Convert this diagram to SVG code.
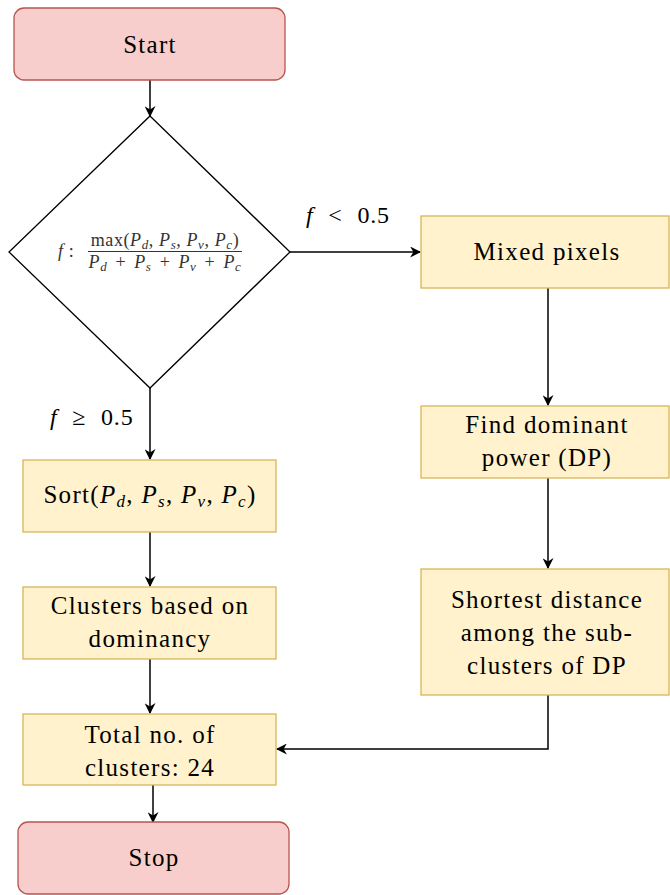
<svg xmlns="http://www.w3.org/2000/svg" width="670" height="895" viewBox="0 0 670 895">
<defs>
<marker id="ah" viewBox="0 0 10 10" refX="9" refY="5" markerWidth="11" markerHeight="11" markerUnits="userSpaceOnUse" orient="auto">
<path d="M0,0 L10,5 L0,10 L3,5 Z" fill="#000"/>
</marker>
<style>
.term{fill:#f8cecc;stroke:#b85450;stroke-width:1.3}
.proc{fill:#fff2cc;stroke:#d6b656;stroke-width:1.3}
.dec{fill:#fff;stroke:#000;stroke-width:1.3}
text{font-family:'Liberation Serif','DejaVu Serif',serif}
.t{font-size:25px;fill:#000;text-anchor:middle;letter-spacing:1.3px}
.m{fill:#333;letter-spacing:0.6px}
.lbl{font-size:24px;fill:#000;word-spacing:8px;letter-spacing:0.8px}
.e{fill:none;stroke:#000;stroke-width:1.5;marker-end:url(#ah)}
</style>
</defs>
<rect width="670" height="895" fill="#fff"/>
<g id="connectors">
<path class="e" d="M150,80 L150,116"/>
<path class="e" d="M290,252 L420,252"/>
<path class="e" d="M150,388 L150,459"/>
<path class="e" d="M548,288 L548,405"/>
<path class="e" d="M548,478 L548,568"/>
<path class="e" d="M150,532 L150,586"/>
<path class="e" d="M150,659 L150,713"/>
<path class="e" d="M548,695 L548,749 L277,749"/>
<path class="e" d="M153,785 L153,822"/>
<text class="lbl" x="306" y="223"><tspan font-style="italic">f</tspan> &lt; 0.5</text>
<text class="lbl" x="50" y="425"><tspan font-style="italic">f</tspan> ≥ 0.5</text>
</g>
<g id="start">
<rect class="term" x="14" y="8" width="271" height="72" rx="10"/>
<text class="t" x="150" y="53">Start</text>
</g>
<g id="decision">
<polygon class="dec" points="150,116 290,252 150,388 9,252"/>
<text class="m" x="58" y="257" font-size="18"><tspan font-style="italic">f</tspan> :</text>
<text class="m" x="165" y="246" font-size="18" text-anchor="middle">max(<tspan font-style="italic">P</tspan><tspan font-style="italic" font-size="13" dy="3">d</tspan><tspan dy="-3">, </tspan><tspan font-style="italic">P</tspan><tspan font-style="italic" font-size="13" dy="3">s</tspan><tspan dy="-3">, </tspan><tspan font-style="italic">P</tspan><tspan font-style="italic" font-size="13" dy="3">v</tspan><tspan dy="-3">, </tspan><tspan font-style="italic">P</tspan><tspan font-style="italic" font-size="13" dy="3">c</tspan><tspan dy="-3">)</tspan></text>
<line x1="88" y1="251.5" x2="242" y2="251.5" stroke="#333" stroke-width="1"/>
<text class="m" x="165" y="268" font-size="18" text-anchor="middle" word-spacing="3"><tspan font-style="italic">P</tspan><tspan font-style="italic" font-size="13" dy="3">d</tspan><tspan dy="-3"> + </tspan><tspan font-style="italic">P</tspan><tspan font-style="italic" font-size="13" dy="3">s</tspan><tspan dy="-3"> + </tspan><tspan font-style="italic">P</tspan><tspan font-style="italic" font-size="13" dy="3">v</tspan><tspan dy="-3"> + </tspan><tspan font-style="italic">P</tspan><tspan font-style="italic" font-size="13" dy="3">c</tspan></text>
</g>
<g id="mixed">
<rect class="proc" x="421" y="216" width="248" height="72"/>
<text class="t" x="547" y="260">Mixed pixels</text>
</g>
<g id="dominant">
<rect class="proc" x="421" y="406" width="248" height="72"/>
<text class="t" x="547" y="433">Find dominant</text>
<text class="t" x="547" y="466">power (DP)</text>
</g>
<g id="shortest">
<rect class="proc" x="421" y="569" width="248" height="126"/>
<text class="t" x="547" y="608">Shortest distance</text>
<text class="t" x="547" y="641">among the sub-</text>
<text class="t" x="547" y="674">clusters of DP</text>
</g>
<g id="sort">
<rect class="proc" x="23" y="460" width="253" height="72"/>
<text class="t" x="150" y="503">Sort(<tspan font-style="italic">P</tspan><tspan font-style="italic" font-size="17" dy="4">d</tspan><tspan dy="-4">, </tspan><tspan font-style="italic">P</tspan><tspan font-style="italic" font-size="17" dy="4">s</tspan><tspan dy="-4">, </tspan><tspan font-style="italic">P</tspan><tspan font-style="italic" font-size="17" dy="4">v</tspan><tspan dy="-4">, </tspan><tspan font-style="italic">P</tspan><tspan font-style="italic" font-size="17" dy="4">c</tspan><tspan dy="-4">)</tspan></text>
</g>
<g id="clusters">
<rect class="proc" x="23" y="587" width="253" height="72"/>
<text class="t" x="150" y="614">Clusters based on</text>
<text class="t" x="150" y="647">dominancy</text>
</g>
<g id="total">
<rect class="proc" x="23" y="714" width="253" height="71"/>
<text class="t" x="150" y="743">Total no. of</text>
<text class="t" x="150" y="776">clusters: 24</text>
</g>
<g id="stop">
<rect class="term" x="18" y="822" width="271" height="72" rx="10"/>
<text class="t" x="154" y="866">Stop</text>
</g>
</svg>
